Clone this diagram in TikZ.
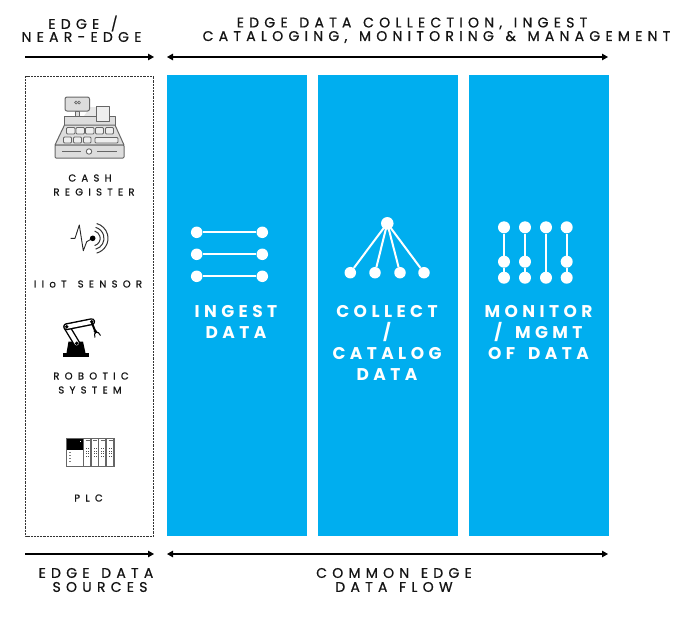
\documentclass[tikz,border=0pt]{standalone}
\usepackage{fontspec}
\setmainfont{Poppins}
\newfontfamily\headf[LetterSpace=37.5,FakeBold=0.7,WordSpace=1.3]{Poppins}
\newfontfamily\smallf[LetterSpace=53,FakeBold=0.7,WordSpace=1.4]{Poppins}
\newfontfamily\bluef[LetterSpace=26,WordSpace=1.6]{Poppins}[BoldFont={* Bold}]
\definecolor{panelblue}{HTML}{00AEEF}
\definecolor{icongrey}{HTML}{666666}
\definecolor{iconfill}{HTML}{DDDDDD}
\definecolor{inkblack}{HTML}{141414}
\usetikzlibrary{arrows.meta}
\tikzset{
  panel/.style={fill=panelblue,draw=none},
  span/.style={draw=black,line width=1.1pt,-{Triangle[length=6pt,width=6.5pt]}},
  bispan/.style={draw=black,line width=1.1pt,{Triangle[length=6pt,width=6.5pt]}-{Triangle[length=6pt,width=6.5pt]}},
  head/.style={text=inkblack,font=\headf\fontsize{14}{16}\selectfont,inner sep=0pt,anchor=center},
  lab/.style={text=inkblack,font=\smallf\fontsize{10}{12}\selectfont,inner sep=0pt,anchor=center},
  blue/.style={text=white,font=\bluef\bfseries\fontsize{17}{20}\selectfont,inner sep=0pt,anchor=center},
  wdot/.style={circle,fill=white,draw=none,inner sep=0pt,minimum size=#1},
  wdot/.default=11.5pt,
  wline/.style={draw=white,line width=2pt},
  reg/.style={draw=icongrey,fill=iconfill,line width=1pt,line join=round},
  key/.style={draw=icongrey,fill=iconfill!50,line width=0.9pt,rounded corners=1pt},
}
\begin{document}
\begin{tikzpicture}[x=1pt,y=-1pt]
\useasboundingbox[fill=white] (0,0) rectangle (686,622);
% panels
\fill[panel] (167,75) rectangle (307,536);
\fill[panel] (318,75) rectangle (458,536);
\fill[panel] (469,75) rectangle (609,536);
% source box
\draw[black!80,line width=0.45pt,densely dotted] (25.5,76) rectangle (153.5,536);
% span arrows
\coordinate (tl) at (25,57); \coordinate (tr) at (154,57);
\coordinate (ml) at (167,57); \coordinate (mr) at (608,57);
\coordinate (bl) at (25,554); \coordinate (br) at (154,554);
\coordinate (nl) at (167,554); \coordinate (nr) at (608,554);
\draw[span] (tl) -- (tr);
\draw[bispan] (ml) -- (mr);
\draw[span] (bl) -- (br);
\draw[bispan] (nl) -- (nr);
% headings
\node[head] (h1) at (83,23.5) {EDGE /};
\node[head] (h2) at (81.5,37) {NEAR-EDGE};
\node[head] (h3) at (412,23.5) {EDGE DATA COLLECTION, INGEST};
\node[head] (h4) at (436.5,37) {CATALOGING, MONITORING \& MANAGEMENT};
\node[head] (f1) at (96,573) {EDGE DATA};
\node[head] (f2) at (100,587) {SOURCES};
\node[head] (f3) at (394,573) {COMMON EDGE};
\node[head] (f4) at (394,587) {DATA FLOW};
% source labels
\node[lab] (s1) at (90,178) {CASH};
\node[lab] (s2) at (94,192) {REGISTER};
\node[lab] (s3) at (88,284) {IIoT SENSOR};
\node[lab] (s4) at (91,376) {ROBOTIC};
\node[lab] (s5) at (90,390) {SYSTEM};
\node[lab] (s6) at (88.5,498) {PLC};
% panel labels
\node[blue] (b1) at (236,311.5) {INGEST};
\node[blue] (b2) at (236,332.5) {DATA};
\node[blue] (c1) at (387,311.5) {COLLECT};
\node[blue] (c2) at (387,332.5) {/};
\node[blue] (c3) at (387,353.5) {CATALOG};
\node[blue] (c4) at (387,374.5) {DATA};
\node[blue] (d1) at (538.5,311.5) {MONITOR};
\node[blue] (d2) at (538.5,332.5) {/ MGMT};
\node[blue] (d3) at (538.5,353.5) {OF DATA};
% ingest icon
\foreach \y/\n in {232.3/a,254.3/b,276.3/c}{
  \node[wdot] (i\n l) at (196.7,\y) {};
  \node[wdot] (i\n r) at (262.3,\y) {};
  \draw[wline] (i\n l) -- (i\n r);
}
% collect icon
\node[wdot=12.5pt] (ct) at (387.3,223.3) {};
\foreach \x/\n in {350.3/a,375/b,400/c,424/d}{
  \node[wdot] (c\n) at (\x,272.7) {};
  \draw[wline] (ct.center) -- (c\n);
}
% monitor icon
\foreach \x/\n in {504/a,525/b,566.7/d}{
  \node[wdot=12pt] (m\n1) at (\x,227.3) {};
  \node[wdot=12pt] (m\n2) at (\x,261.7) {};
  \node[wdot=12pt] (m\n3) at (\x,277.7) {};
  \draw[wline] (m\n1) -- (m\n2) -- (m\n3);
}
\node[wdot=12pt] (mc1) at (546,227.3) {};
\node[wdot=12pt] (mc3) at (546,277.7) {};
\draw[wline] (mc1) -- (mc3);
% cash register
\fill[iconfill!70] (90,107) -- (97,107) -- (97,116) -- (84,116) -- cycle;
\draw[reg] (75,111) rectangle (79,116.5);
\draw[reg,rounded corners=2pt] (65,97) rectangle (89.5,111);
\draw[icongrey,line width=0.7pt] (77.5,102.5) arc[start angle=0,end angle=360,radius=1.4];
\draw[icongrey,line width=0.7pt] (80.5,102.5) arc[start angle=0,end angle=360,radius=1.4];
\draw[reg] (64.5,116.5) rectangle (115,125);
\draw[reg,fill=iconfill!50] (96,106.5) rectangle (109,121);
\draw[reg] (64.5,125) -- (115,125) -- (124,145) -- (55,145) -- cycle;
\foreach \a/\b in {66.5/75,76/84.5,85.5/94,95.5/103.5,105.5/113.5}{
  \draw[key] (\a,127.5) rectangle (\b,134);}
\foreach \a/\b in {63.5/71.5,73.5/81.5,83.5/91}{
  \draw[key] (\a,137) rectangle (\b,143);}
\draw[key] (95,137.5) rectangle (118,143);
\draw[reg,rounded corners=1pt] (55,145) rectangle (124,158);
\draw[icongrey,line width=0.9pt] (62,151.5) -- (81,151.5);
\draw[icongrey,line width=0.9pt] (97,151.5) -- (117,151.5);
\draw[icongrey,fill=white,line width=0.9pt] (89,151.5) circle[radius=2.7];
% sensor
\draw[black!85,line width=0.9pt,line join=round] (70.7,238.3) -- (75,238.3) -- (79.3,225) -- (83.3,250.7) -- (86.7,241.7) -- (92.7,238.3);
\fill[black] (92.7,238.3) circle[radius=2.8];
\foreach \r in {7.5,11.3,15.3}{
  \draw[black!80,line width=1pt] ({92.7+\r*cos(-75)},{238.3-\r*sin(-75)}) arc[start angle=75,end angle=-75,radius=\r,y=1pt];
}
% robot
\fill[black] (63,353) rectangle (88.5,357);
\fill[black] (68.5,341.5) -- (83,341.5) -- (85.5,353) -- (66.5,353) -- cycle;
\draw[black,line width=7pt,line cap=round] (66.7,326.7) -- (76.7,343.3);
\draw[white,line width=4.2pt,line cap=round] (66.7,326.7) -- (76.7,343.3);
\draw[black,line width=7pt,line cap=round] (66.7,326.7) -- (91.7,321.7);
\draw[white,line width=4.2pt,line cap=round] (66.7,326.7) -- (91.7,321.7);
\fill[black] (66.7,326.7) circle[radius=1.9];
\fill[black] (76.7,343.3) circle[radius=1.9];
\fill[black] (91.7,321.7) circle[radius=1.9];
\draw[black,line width=2pt] (92,323) -- (95.5,332);
\draw[black,line width=1pt] (95,337.5) .. controls (92.5,332) and (98.5,330) .. (100.5,335.5);
\fill[black] (95.5,331.5) circle[radius=1.9];
% PLC
\draw[icongrey,fill=white,line width=1.1pt] (66.5,438.5) rectangle (114,466.5);
\fill[black] (66.5,438.5) rectangle (83.3,449.5);
\fill[white] (80,441) rectangle (81,442);
\foreach \x in {83.5,91,98.7,106}{\draw[icongrey,line width=1.1pt] (\x,438.5) -- (\x,466.5);}
\foreach \x in {87.5,95,102.5,110.5}{
  \draw[icongrey,line width=0.5pt] (\x-2,440.5) -- (\x+2,440.5);
  \foreach \y in {448,450.5,453,455.5}{
    \fill[black!70] (\x-1.5,\y) rectangle (\x-0.5,\y+1);
    \fill[black!70] (\x+0.5,\y) rectangle (\x+1.5,\y+1);}
}
\foreach \y in {452,455,458,461}{\fill[black!50] (68.5,\y) rectangle (70.5,\y+1.2);}
\end{tikzpicture}
\end{document}
